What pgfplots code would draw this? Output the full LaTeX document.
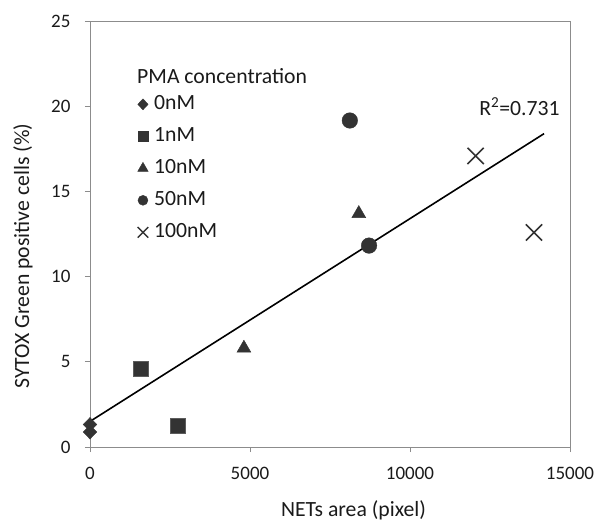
\documentclass[border=0pt]{standalone}
\usepackage{pgfplots}
\pgfplotsset{compat=1.18}
\usepackage{fontspec}
\setmainfont{Carlito}

\definecolor{frame}{HTML}{8C8C8C}
\definecolor{mk}{HTML}{333333}
\definecolor{txt}{HTML}{1A1A1A}

\newcommand{\lab}{\fontsize{21.7}{26}\selectfont}
\newcommand{\tck}{\fontsize{19}{23}\selectfont}

\begin{document}
\begin{tikzpicture}
  \begin{axis}[
    name=ax,
    at={(0,0)}, anchor=south west,
    scale only axis,
    width=480pt, height=426pt,
    xmin=0, xmax=15000,
    ymin=0, ymax=25,
    xtick={0,5000,10000,15000},
    ytick={0,5,10,15,20,25},
    scaled x ticks=false,
    tick pos=left,
    tick align=outside,
    major tick length=5pt,
    axis line style={frame, line width=0.9pt},
    every tick/.style={frame, line width=0.9pt},
    /pgf/number format/assume math mode=true,
    /pgf/number format/1000 sep={},
    ticklabel style={font=\tck, text=txt},
    xticklabel shift=12pt,
    yticklabel shift=11pt,
    xlabel={NETs area (pixel)},
    ylabel={SYTOX Green positive cells (\%)},
    label style={font=\lab, text=txt},
    xlabel style={at={(axis description cs:0.549,0)}, anchor=center, yshift=-63pt},
    ylabel style={at={(axis description cs:-0.1396,0.448)}, anchor=center},
    clip=false,
    legend image code/.code={\draw[#1] plot coordinates {(0pt,0pt)}; \path (-6pt,0pt) (11pt,0pt);},
    legend cell align=left,
    legend style={
      draw=none, fill=none,
      at={(rel axis cs:0.097,0.826)}, anchor=north west,
      font=\lab, text=txt,
      row sep=14pt,
      inner sep=0pt,
      nodes={inner sep=0pt, text height=14pt, text depth=4pt},
    },
  ]
    % legend images (smaller marks than the plotted points)
    \addlegendimage{only marks, mark=diamond*, mark size=5.5pt, mark options={fill=mk, draw=mk, xscale=1.25}}
    \addlegendentry{0nM}
    \addlegendimage{only marks, mark=square*, mark size=5pt, mark options={fill=mk, draw=mk}}
    \addlegendentry{1nM}
    \addlegendimage{only marks, mark=triangle*, mark size=6pt, mark options={fill=mk, draw=mk}}
    \addlegendentry{10nM}
    \addlegendimage{only marks, mark=*, mark size=5pt, mark options={fill=mk, draw=mk}}
    \addlegendentry{50nM}
    \addlegendimage{only marks, mark=x, mark size=7.5pt, mark options={draw=mk, line width=1.4pt}}
    \addlegendentry{100nM}

    % 0 nM
    \addplot[forget plot, only marks, mark=diamond*, mark size=7pt,
      mark options={fill=mk, draw=mk, xscale=1.3}] coordinates {
      (0, 1.32) (0, 0.88)
    };
    % 1 nM
    \addplot[forget plot, only marks, mark=square*, mark size=7.5pt,
      mark options={fill=mk, draw=mk!80}] coordinates {
      (1600, 4.57) (2750, 1.26)
    };
    % 10 nM
    \addplot[forget plot, only marks, mark=triangle*, mark size=8pt,
      mark options={fill=mk, draw=mk}] coordinates {
      (4810, 5.8) (8400, 13.7)
    };
    % 50 nM
    \addplot[forget plot, only marks, mark=*, mark size=7.8pt,
      mark options={fill=mk, draw=mk}] coordinates {
      (8120, 19.16) (8720, 11.82)
    };
    % 100 nM
    \addplot[forget plot, only marks, mark=x, mark size=11.5pt,
      mark options={draw=mk, line width=1.6pt}] coordinates {
      (12050, 17.08) (13875, 12.59)
    };
    % linear trend line
    \addplot[forget plot, black, line width=1.6pt] coordinates {
      (0, 1.5) (14190, 18.39)
    };

    \node[anchor=west, font=\lab, text=txt, inner sep=0pt]
      at (rel axis cs:0.098,0.871) {PMA concentration};
    \node[font=\lab, text=txt, inner sep=0pt]
      at (axis cs:13420,19.98) {R\textsuperscript{2}=0.731};
  \end{axis}
  \pgfresetboundingbox
  \path (-90pt,-75pt) rectangle (507pt,447pt);
\end{tikzpicture}
\end{document}
